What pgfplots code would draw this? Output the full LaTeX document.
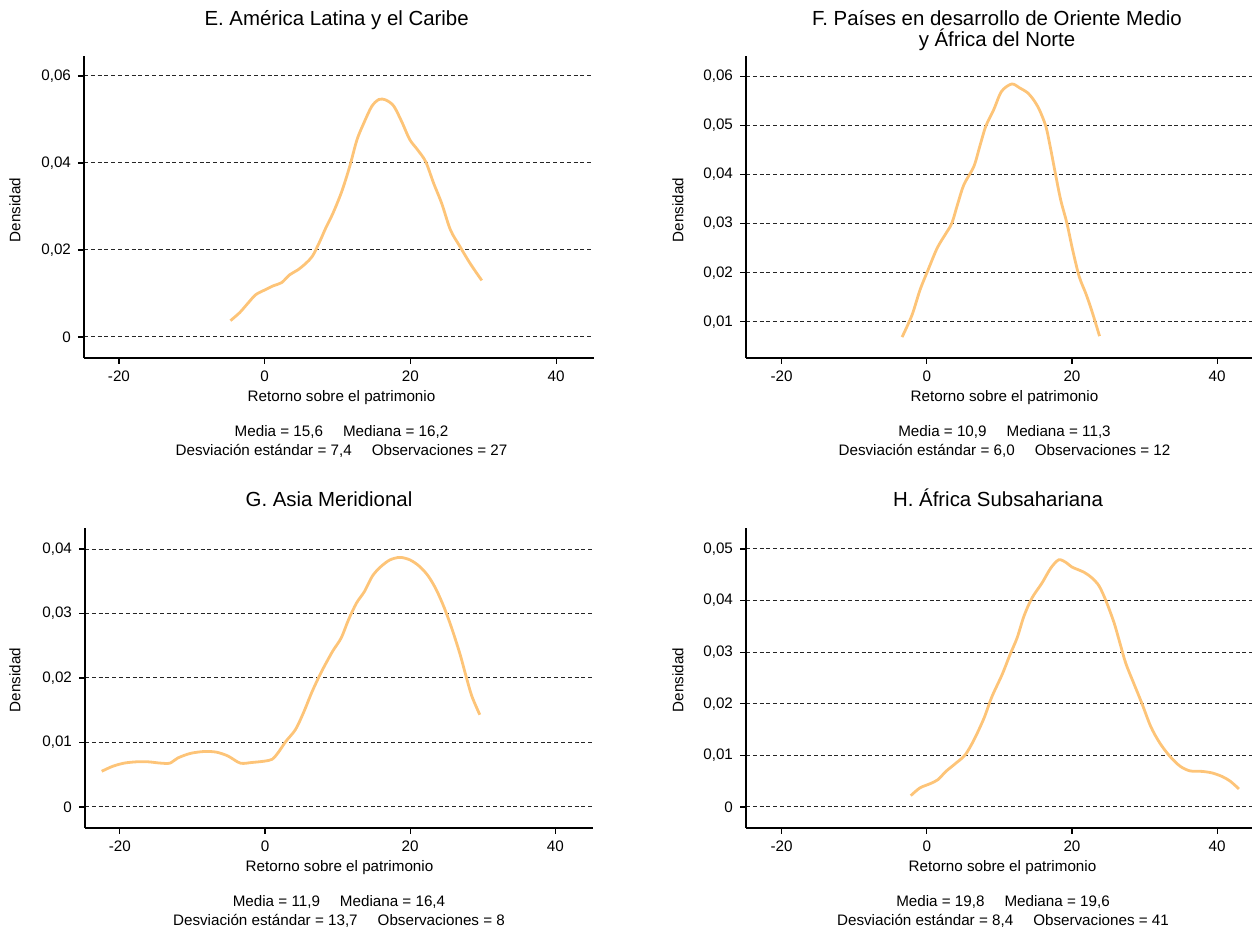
\documentclass[border=0pt]{standalone}
\usepackage{fontspec}
\setmainfont{Liberation Sans}
\usepackage{pgfplots}
\pgfplotsset{compat=1.18}
\definecolor{curve}{RGB}{253,196,120}
\newcommand{\tfont}{\fontsize{10.2}{12}\selectfont}
\newcommand{\sfont}{\fontsize{7.6}{9}\selectfont}
\pgfplotsset{panel/.style={
  scale only axis,
  axis lines=left,
  axis line style={-, line width=0.75pt, black},
  tick align=outside,
  major tick length=3pt,
  tick style={black, line width=0.6pt},
  ymajorgrids,
  grid style={black!85, line width=0.5pt, dash pattern=on 2pt off 1.4pt},
  xtick={-20,0,20,40},
  xticklabels={-20,0,20,40},
  scaled y ticks=false,
  scaled x ticks=false,
  tick label style={font=\sfont},
  xmin=-24.8, xmax=45.2,
  clip=false,
}}
\begin{document}
\begin{tikzpicture}
\useasboundingbox (0,0) rectangle (626pt,464.5pt);
% ---------- E
\begin{axis}[panel, width=255pt, height=151pt, at={(42pt,285.5pt)}, anchor=south west,
  ymin=-0.00483, ymax=0.0646,
  ytick={0,0.02,0.04,0.06}, yticklabels={0,{0,02},{0,04},{0,06}}]
\addplot[curve, line width=1.4pt, smooth] coordinates {
(-4.70,0.00375) (-3.43,0.0056) (-2.33,0.0077) (-1.24,0.0097) (0,0.0108)
(1.23,0.0118) (2.33,0.0125) (3.43,0.0143) (4.53,0.0154) (5.63,0.0169)
(6.56,0.0186) (7.55,0.0219) (8.37,0.0250) (9.36,0.0284) (10.57,0.0334)
(11.67,0.0392) (12.66,0.0453) (13.59,0.0491) (14.69,0.0530) (15.68,0.0546)
(16.61,0.0545) (17.71,0.0531) (18.81,0.0495) (19.91,0.0454) (21.0,0.0430)
(22.1,0.0403) (23.2,0.0353) (24.3,0.0307) (25.5,0.0246) (26.8,0.0208)
(27.9,0.0177) (28.8,0.0154) (29.8,0.0130)};
\end{axis}
% ---------- F
\begin{axis}[panel, width=253pt, height=151pt, at={(373pt,285.5pt)}, anchor=south west,
  xmin=-24.9, xmax=44.8,
  ymin=0.00265, ymax=0.0641,
  ytick={0.01,0.02,0.03,0.04,0.05,0.06}, yticklabels={{0,01},{0,02},{0,03},{0,04},{0,05},{0,06}}]
\addplot[curve, line width=1.4pt, smooth] coordinates {
(-3.40,0.0069) (-2.03,0.0114) (-0.93,0.0165) (0.16,0.0205) (1.43,0.0250)
(2.64,0.0280) (3.46,0.0301) (4.28,0.0341) (5.11,0.0379) (6.48,0.0416)
(7.30,0.0457) (8.13,0.0498) (9.23,0.0532) (10.3,0.0569) (11.7,0.0584)
(12.8,0.0576) (13.9,0.0566) (14.7,0.0552) (15.5,0.0532) (16.4,0.0498)
(17.0,0.0457) (17.7,0.0403) (18.45,0.0348) (19.3,0.0301) (20.1,0.0246)
(21.0,0.0192) (21.9,0.0158) (22.7,0.0124) (23.8,0.0071)};
\end{axis}
% ---------- G
\begin{axis}[panel, width=254pt, height=150pt, at={(42.5pt,50.5pt)}, anchor=south west,
  ymin=-0.00326, ymax=0.04326,
  ytick={0,0.01,0.02,0.03,0.04}, yticklabels={0,{0,01},{0,02},{0,03},{0,04}}]
\addplot[curve, line width=1.4pt, smooth] coordinates {
(-22.5,0.00553) (-21.0,0.0063) (-19.4,0.0068) (-17.7,0.0070) (-16.1,0.0070)
(-14.4,0.0068) (-13.1,0.0068) (-12.0,0.0076) (-10.3,0.0083) (-8.4,0.0086)
(-6.7,0.0085) (-5.1,0.0079) (-3.4,0.0068) (-1.8,0.0069) (-0.1,0.0071)
(1.0,0.0074) (1.8,0.0084) (2.9,0.0102) (4.2,0.0120) (5.3,0.0146)
(6.5,0.0179) (7.8,0.0210) (9.3,0.0241) (10.5,0.0262) (11.5,0.0290)
(12.6,0.0316) (13.7,0.0334) (14.8,0.0358) (15.9,0.0372) (17.2,0.0383)
(18.6,0.0387) (20.0,0.0383) (21.3,0.0373) (22.5,0.0358) (23.6,0.0337)
(24.7,0.0309) (25.8,0.0275) (26.9,0.0236) (27.7,0.0203) (28.5,0.0172)
(29.6,0.0143)};
\end{axis}
% ---------- H
\begin{axis}[panel, width=253pt, height=150pt, at={(373pt,50.5pt)}, anchor=south west,
  xmin=-24.9, xmax=44.8,
  ymin=-0.00407, ymax=0.05407,
  ytick={0,0.01,0.02,0.03,0.04,0.05}, yticklabels={0,{0,01},{0,02},{0,03},{0,04},{0,05}}]
\addplot[curve, line width=1.4pt, smooth] coordinates {
(-2.2,0.0022) (-0.94,0.0037) (0.44,0.0045) (1.54,0.0053) (2.64,0.0069)
(4.02,0.0085) (5.29,0.0101) (6.50,0.0130) (7.88,0.0172) (8.98,0.0214)
(10.36,0.0256) (11.46,0.0295) (12.45,0.0328) (13.39,0.0370) (14.49,0.0405)
(15.87,0.0434) (17.08,0.0463) (18.18,0.0479) (19.17,0.0474) (20.0,0.0465)
(21.65,0.0455) (22.75,0.0444) (23.75,0.0428) (24.7,0.0399) (25.8,0.0357)
(26.6,0.0318) (27.4,0.0279) (28.5,0.0240) (29.6,0.0202) (30.85,0.0156)
(32.1,0.0124) (33.5,0.0098) (34.9,0.0079) (36.25,0.0070) (37.9,0.0069)
(39.3,0.0066) (40.7,0.0059) (41.8,0.0050) (43.0,0.0035)};
\end{axis}
% ---------- texts
\node[anchor=base, font=\tfont] at (168.3pt,451.5pt) {E. América Latina y el Caribe};
\node[anchor=base, font=\tfont] at (498.5pt,451.5pt) {F. Países en desarrollo de Oriente Medio};
\node[anchor=base, font=\tfont] at (498.5pt,441pt) {y África del Norte};
\node[anchor=base, font=\tfont] at (164.5pt,211pt) {G. Asia Meridional};
\node[anchor=base, font=\tfont] at (499pt,211pt) {H. África Subsahariana};
\node[anchor=base, font=\sfont] at (170.75pt,263.5pt) {Retorno sobre el patrimonio};
\node[anchor=base, font=\sfont] at (502.25pt,263.5pt) {Retorno sobre el patrimonio};
\node[anchor=base, font=\sfont] at (169.75pt,28.5pt) {Retorno sobre el patrimonio};
\node[anchor=base, font=\sfont] at (501.25pt,28.5pt) {Retorno sobre el patrimonio};
\node[rotate=90, font=\sfont] at (7.5pt,359.5pt) {Densidad};
\node[rotate=90, font=\sfont] at (339pt,359.5pt) {Densidad};
\node[rotate=90, font=\sfont] at (7.5pt,124.5pt) {Densidad};
\node[rotate=90, font=\sfont] at (339pt,124.5pt) {Densidad};
\node[anchor=base, font=\sfont] at (170.75pt,246pt) {Media = 15,6\hspace{10pt}Mediana = 16,2};
\node[anchor=base, font=\sfont] at (170.75pt,236.5pt) {Desviación estándar = 7,4\hspace{10pt}Observaciones = 27};
\node[anchor=base, font=\sfont] at (502.25pt,246pt) {Media = 10,9\hspace{10pt}Mediana = 11,3};
\node[anchor=base, font=\sfont] at (502.25pt,236.5pt) {Desviación estándar = 6,0\hspace{10pt}Observaciones = 12};
\node[anchor=base, font=\sfont] at (169.5pt,11pt) {Media = 11,9\hspace{10pt}Mediana = 16,4};
\node[anchor=base, font=\sfont] at (169.5pt,1.5pt) {Desviación estándar = 13,7\hspace{10pt}Observaciones = 8};
\node[anchor=base, font=\sfont] at (501.5pt,11pt) {Media = 19,8\hspace{10pt}Mediana = 19,6};
\node[anchor=base, font=\sfont] at (501.5pt,1.5pt) {Desviación estándar = 8,4\hspace{10pt}Observaciones = 41};
\end{tikzpicture}
\end{document}
